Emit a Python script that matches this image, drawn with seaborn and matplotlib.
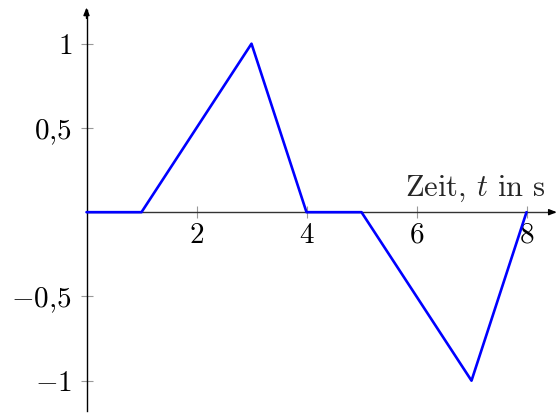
import matplotlib
matplotlib.use("Agg")
import matplotlib.pyplot as plt
import seaborn as sns
import pandas as pd

# Signal samples: time in s and amplitude
t_values = [0, 1, 3, 4, 5, 7, 8]
amplitude = [0, 0, 1, 0, 0, -1, 0]
x_ticks = [2, 4, 6, 8]
x_tick_labels = ["2", "4", "6", "8"]
y_ticks = [-1, -0.5, 0.5, 1]
y_tick_labels = [r"$-1$", r"$-0{,}5$", r"$0{,}5$", r"$1$"]

sns.set_style("white")
plt.rcParams["mathtext.fontset"] = "cm"
plt.rcParams["font.family"] = ["cmr10", "DejaVu Serif"]

df = pd.DataFrame({"t": t_values, "y": amplitude})

fig = plt.figure(figsize=(5.56, 4.13), dpi=100)
W, H = 556, 413
x0_px, x1_px = 86.5, 554.0
y_top_px, y_bot_px = 10.0, 411.0
ax = fig.add_axes([x0_px / W, 1 - y_bot_px / H, (x1_px - x0_px) / W, (y_bot_px - y_top_px) / H])

sns.lineplot(data=df, x="t", y="y", ax=ax, color=(0, 0, 1), linewidth=1.9,
             sort=False, estimator=None, zorder=3, clip_on=False)

ax.set_xlim(0, 8.5)
ax.set_ylim(-1.18, 1.2)

for side in ["top", "right"]:
    ax.spines[side].set_visible(False)
ax.spines["left"].set_position(("data", 0))
ax.spines["bottom"].set_position(("data", 0))
ax.spines["left"].set_color("black")
ax.spines["bottom"].set_color("#333333")
ax.spines["left"].set_linewidth(1.0)
ax.spines["bottom"].set_linewidth(1.0)

# Arrow heads at the axis ends
arrow = dict(arrowstyle="-|>,head_length=0.45,head_width=0.18", color="black", lw=1.0,
             shrinkA=0, shrinkB=0)
ax.annotate("", xy=(8.55, 0), xytext=(8.4, 0), arrowprops=arrow, annotation_clip=False)
ax.annotate("", xy=(0, 1.215), xytext=(0, 1.15), arrowprops=arrow, annotation_clip=False)

ax.set_xticks(x_ticks)
ax.set_xticklabels([f"${s}$" for s in x_tick_labels])
ax.set_yticks(y_ticks)
ax.set_yticklabels(y_tick_labels)
ax.tick_params(axis="both", direction="inout", length=9, width=0.8, color="#999999",
               labelsize=21, labelcolor="black", bottom=True, left=True)
ax.tick_params(axis="x", pad=3)
ax.tick_params(axis="y", pad=6)

ax.set_xlabel("")
ax.set_ylabel("")
ax.text(8.35, 0.098, r"Zeit, $t$ in s", ha="right", va="baseline", fontsize=22)

fig.savefig("out.png", dpi=100)
